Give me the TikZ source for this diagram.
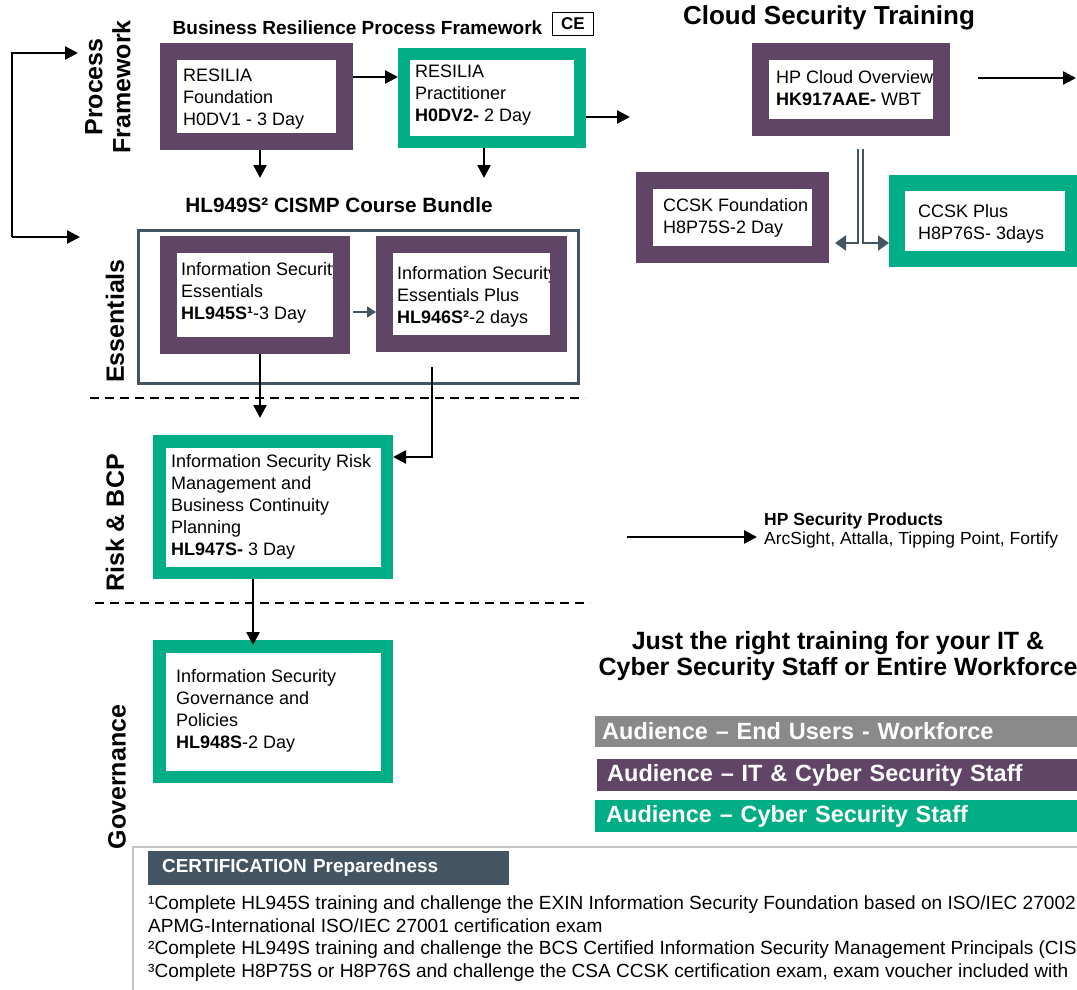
\documentclass[tikz,border=0pt]{standalone}
\usepackage{fontspec}
\setmainfont{Liberation Sans}
\usetikzlibrary{arrows.meta}
\definecolor{hpur}{HTML}{604567}
\definecolor{hgrn}{HTML}{01AD84}
\definecolor{hsl}{HTML}{435563}
\definecolor{hgry}{HTML}{8A8A8A}
\definecolor{hlg}{HTML}{C4C4C4}
\newcommand\fsz[2]{\fontsize{#1}{#2}\selectfont}
\begin{document}
\begin{tikzpicture}[x=1pt,y=-1pt,
  frm/.style={draw=#1, inner sep=0pt, fill=none},
  btxt/.style={font=\fsz{18}{22}, align=left, anchor=west, inner sep=0pt},
  arr/.style={line width=2.5pt, -{Triangle[length=13pt,width=13pt]}},
  sarr/.style={draw=hsl, line width=2pt, -{Triangle[length=11pt,width=15pt]}},
  vlbl/.style={rotate=90, font=\fsz{25}{28}\bfseries, align=center, inner sep=0pt},
  ttl/.style={font=\fsz{19}{22}\bfseries, inner sep=0pt},
  dsh/.style={line width=2pt, dash pattern=on 9pt off 6pt},
  aud/.style={anchor=west, minimum height=32pt, text width=470pt, inner xsep=7pt, inner ysep=0pt, font=\fsz{23.5}{26}\bfseries, text=white, align=left}
]
\useasboundingbox (0,0) rectangle (1077,990);
\clip (0,0) rectangle (1077,990);

% titles
\node[ttl] (brpf) at (357.5,28) {Business Resilience Process Framework};
\node[draw, line width=1.5pt, minimum width=41pt, minimum height=23pt, inner sep=0pt, font=\fsz{17}{20}\bfseries] (ce) at (573,24) {CE};
\node[font=\fsz{26}{30}\bfseries, inner sep=0pt] (cst) at (829,18) {Cloud Security Training};
\node[ttl, font=\fsz{20.7}{24}\bfseries] (bndt) at (339,205) {HL949S² CISMP Course Bundle};

% side labels
\node[vlbl] (lpf) at (108,87) {Process\\Framework};
\node[vlbl] (less) at (115,321) {Essentials};
\node[vlbl] (lrisk) at (115,523) {Risk \& BCP};
\node[vlbl] (lgov) at (117,777) {Governance};

% bundle frame
\node[draw=hsl, line width=3pt, minimum width=440pt, minimum height=153pt, inner sep=0pt] (bnd) at (358.5,307) {};

% boxes: text first, frame on top
\node[btxt] (fndt) at (183,99.5) {RESILIA\\Foundation\\H0DV1 - 3 Day};
\node[frm=hpur, line width=17pt, minimum width=176pt, minimum height=90pt] (fnd) at (256.5,96.5) {};

\node[btxt] (pract) at (415,95.5) {RESILIA\\Practitioner\\\textbf{H0DV2-} 2 Day};
\node[frm=hgrn, line width=12pt, minimum width=176pt, minimum height=88pt] (prac) at (492,98) {};

\node[btxt] (hpct) at (776,88) {HP Cloud Overview\\\textbf{HK917AAE-} WBT};
\node[frm=hpur, line width=17pt, minimum width=181pt, minimum height=76pt] (hpc) at (851,89.5) {};

\node[btxt] (ccskft) at (663,218) {CCSK Foundation\\H8P75S-2 Day};
\node[frm=hpur, line width=17pt, minimum width=176pt, minimum height=74pt] (ccskf) at (732.5,217.5) {};

\node[btxt] (ccskpt) at (918,224) {CCSK Plus\\H8P76S- 3days};
\node[frm=hgrn, line width=16pt, minimum width=176pt, minimum height=76pt] (ccskp) at (985,221) {};

\node[btxt] (esst) at (181,293) {Information Security\\Essentials\\\textbf{HL945S¹}-3 Day};
\node[frm=hpur, line width=17pt, minimum width=173pt, minimum height=101pt] (ess) at (255,295) {};

\node[btxt] (esspt) at (397,296.5) {Information Security\\Essentials Plus\\\textbf{HL946S²}-2 days};
\node[frm=hpur, line width=17pt, minimum width=174pt, minimum height=99pt] (essp) at (471.5,294) {};

\node[btxt] (riskt) at (171,507) {Information Security Risk\\Management and\\Business Continuity\\Planning\\\textbf{HL947S-} 3 Day};
\node[frm=hgrn, line width=12.5pt, minimum width=227.5pt, minimum height=131.5pt] (risk) at (273,507) {};

\node[btxt] (govt) at (176,711) {Information Security\\Governance and\\Policies\\\textbf{HL948S}-2 Day};
\node[frm=hgrn, line width=12.5pt, minimum width=227.5pt, minimum height=130.5pt] (gov) at (273,711.5) {};

% bracket arrows
\coordinate (brs) at (12,237);
\coordinate (brt) at (78,53);
\coordinate (brb) at (80,237);
\draw[arr] (brs) |- (brt);
\draw[arr] (brs) -- (brb);

% connectors
\draw[arr] (fnd.east |- 0,77) -- (prac.west |- 0,77);
\coordinate (d1) at (260,178);
\draw[arr] (fnd.south -| d1) -- (d1);
\coordinate (d2) at (484,178);
\draw[arr] (prac.south -| d2) -- (d2);
\coordinate (r1) at (630,117);
\draw[arr] (prac.east |- r1) -- (r1);
\coordinate (r2a) at (978,78);
\coordinate (r2b) at (1076,78);
\draw[arr] (r2a) -- (r2b);

\draw[sarr, shorten >=6pt] ([xshift=7pt,yshift=-13pt]hpc.south) |- (ccskf.east |- 0,243);
\draw[sarr] ([xshift=12pt,yshift=-13pt]hpc.south) |- (ccskp.west |- 0,243);

\draw[draw=hsl, line width=2pt, -{Triangle[length=9pt,width=11pt]}] ([xshift=3pt]ess.east |- 0,312) -- (essp.west |- 0,312);

\draw[arr, shorten >=17pt] (ess.south -| 260,0) -- (risk.north -| 260,0);
\coordinate (ep) at ([yshift=-15pt]essp.south);
\draw[arr] (ep -| 432,0) |- (risk.east |- 0,457);
\draw[arr, shorten >=-5pt] (risk.south -| 253,0) -- (gov.north -| 253,0);

% dashed separators
\coordinate (da1) at (90,398); \coordinate (da2) at (585,398);
\draw[dsh] (da1) -- (da2);
\coordinate (db1) at (95,603); \coordinate (db2) at (590,603);
\draw[dsh] (db1) -- (db2);

% HP security products
\node[font=\fsz{17.5}{19}, align=left, anchor=west, inner sep=0pt] (hpsp) at (764,530) {\textbf{HP Security Products}\\ArcSight, Attalla, Tipping Point, Fortify};
\coordinate (hpa) at (627,537);
\draw[arr, shorten >=7pt] (hpa) -- (hpsp.west |- hpa);

% tagline
\node[font=\fsz{25}{26}\bfseries, align=center, inner sep=0pt] (jtr) at (838,656) {Just the right training for your IT \&\\Cyber Security Staff or Entire Workforce};

% audience bars
\node[aud, fill=hgry, minimum height=31pt] (a1) at (595,731.5) {Audience – End Users - Workforce};
\node[aud, fill=hpur, inner xsep=10pt, text width=460pt] (a2) at (597,775) {Audience – IT \& Cyber Security Staff};
\node[aud, fill=hgrn, inner xsep=11pt, text width=460pt] (a3) at (595,816) {Audience – Cyber Security Staff};

% certification frame
\coordinate (bf1) at (133,990); \coordinate (bf2) at (133,847); \coordinate (bf3) at (1077,847);
\draw[hlg, line width=2pt] (bf1) -- (bf2) -- (bf3);
\node[fill=hsl, anchor=west, minimum height=34pt, text width=333pt, inner xsep=14pt, inner ysep=0pt, align=left, text=white, font=\fsz{18.9}{20}\bfseries] (cert) at (148,868) {CERTIFICATION Preparedness};
\node[font=\fsz{19.05}{22.7}, align=left, anchor=north west, inner sep=0pt] (fn) at (148,895.5) {¹Complete HL945S training and challenge the EXIN Information Security Foundation based on ISO/IEC 27002\\APMG-International ISO/IEC 27001 certification exam\\²Complete HL949S training and challenge the BCS Certified Information Security Management Principals (CIS\\³Complete H8P75S or H8P76S and challenge the CSA CCSK certification exam, exam voucher included with};
\end{tikzpicture}
\end{document}
